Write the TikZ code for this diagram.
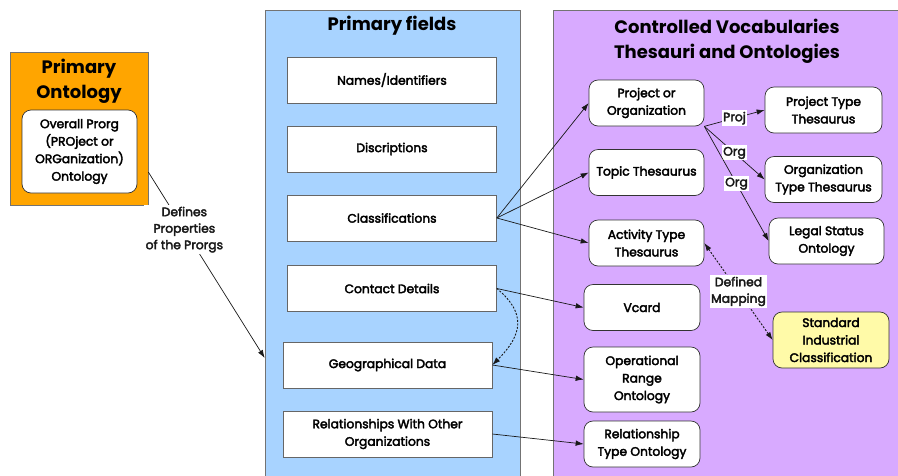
\documentclass[tikz,border=0pt]{standalone}
\usepackage{fontspec}
\setmainfont{Poppins}
\newfontface\mediumface{Poppins}[FakeBold=3]
\usetikzlibrary{arrows.meta, positioning}

\definecolor{ontorange}{HTML}{FFA500}
\definecolor{fieldblue}{HTML}{A8D3FF}
\definecolor{vocabpurple}{HTML}{D8AAFF}
\definecolor{sicyellow}{HTML}{FFFAA8}

\tikzset{
  panel/.style={draw=black!55, line width=0.6pt},
  title/.style={font=\fontsize{18}{25}\selectfont\bfseries, align=center},
  field/.style={draw=black!60, fill=white, line width=0.7pt, align=center,
    minimum width=209, minimum height=46, font=\fontsize{12.3}{17.5}\mediumface},
  vocab/.style={draw=black!80, fill=white, rounded corners=9pt, line width=0.7pt,
    align=center, minimum width=115, minimum height=46, inner sep=1pt,
    font=\fontsize{12.3}{17.5}\mediumface},
  link/.style={-{Latex[length=8pt,width=5.5pt]}, black!90, line width=0.7pt},
  dotlink/.style={link, line width=0.9pt, dash pattern=on 2pt off 1.5pt},
  tag/.style={fill=white, inner sep=1.5pt, align=center, font=\fontsize{12.3}{16.5}\mediumface}
}

\begin{document}
\begin{tikzpicture}[x=1pt, y=-1pt]
  \useasboundingbox (0,0) rectangle (898,475);
  % primary ontology
  \node[panel, fill=ontorange, minimum width=138, minimum height=153] (primont) at (79,128.5) {};
  \node[title] (primtitle) at (79,81) {Primary\\Ontology};
  \node[vocab, minimum width=115, minimum height=83] (overall) at (79.5,151.5)
    {Overall Prorg\\(PROject or\\ORGanization)\\Ontology};
  % primary fields
  \node[panel, fill=fieldblue, minimum width=255, minimum height=475] (fields) at (392.5,247.5) {};
  \node[title] (fieldtitle) at (392,26) {Primary fields};
  \node[field] (names) at (392,80) {Names/Identifiers};
  \node[field] (discr) at (392,149) {Discriptions};
  \node[field] (class) at (392,218) {Classifications};
  \node[field] (contact) at (392,288.5) {Contact Details};
  \node[field] (geo) at (387.5,365) {Geographical Data};
  \node[field] (rel) at (387.5,434) {Relationships With Other\\Organizations};
  % controlled vocabularies
  \node[panel, fill=vocabpurple, minimum width=350, minimum height=475] (vocabs) at (728,247.5) {};
  \node[title] (vocabtitle) at (727,41) {Controlled Vocabularies\\Thesauri and Ontologies};
  \node[vocab] (proj) at (646.5,103) {Project or\\Organization};
  \node[vocab] (topic) at (646.5,172.5) {Topic Thesaurus};
  \node[vocab] (activity) at (646.5,243) {Activity Type\\Thesaurus};
  \node[vocab, minimum width=116] (vcard) at (642,307.5) {Vcard};
  \node[vocab, minimum width=116, minimum height=65] (oprange) at (642,379.5) {Operational\\Range\\Ontology};
  \node[vocab, minimum width=116] (reltype) at (642,444) {Relationship\\Type Ontology};
  \node[vocab, minimum width=117] (projtype) at (823.5,110) {Project Type\\Thesaurus};
  \node[vocab, minimum width=117] (orgtype) at (823.5,179.5) {Organization\\Type Thesaurus};
  \node[vocab] (legal) at (826.5,241) {Legal Status\\Ontology};
  \node[vocab, fill=sicyellow, minimum width=116, minimum height=56] (sic) at (831,340)
    {Standard\\Industrial\\Classification};
  % connectors
  \draw[link] (primont.east |- 0,172) -- (fields.west |- 0,358)
    node[tag, pos=0.31] (defines) {Defines\\Properties\\of the Prorgs};
  \draw[link] (class.east) -- (proj.west);
  \draw[link] (class.east) -- (topic.west);
  \draw[link] (class.east) -- (activity.west);
  \draw[link] (contact.east) -- (vcard.west);
  \draw[dotlink] (contact.east) .. controls +(30,25) and +(30,-30) .. (geo.east);
  \draw[link] (geo.east) -- (oprange.west);
  \draw[link] (rel.east) -- (reltype.west);
  \draw[link] (proj.south east) -- node[tag] (projtag) {Proj} (projtype.west);
  \draw[link] (proj.south east) -- node[tag] (orgtag) {Org} (orgtype.west);
  \draw[link] (proj.south east) -- node[tag] (legaltag) {Org} (legal.west);
  \draw[dotlink, {Latex[length=8pt,width=5.5pt]}-{Latex[length=8pt,width=5.5pt]}] (activity.east) -- node[tag] (mapping) {Defined\\Mapping} (sic.west);
\end{tikzpicture}
\end{document}
